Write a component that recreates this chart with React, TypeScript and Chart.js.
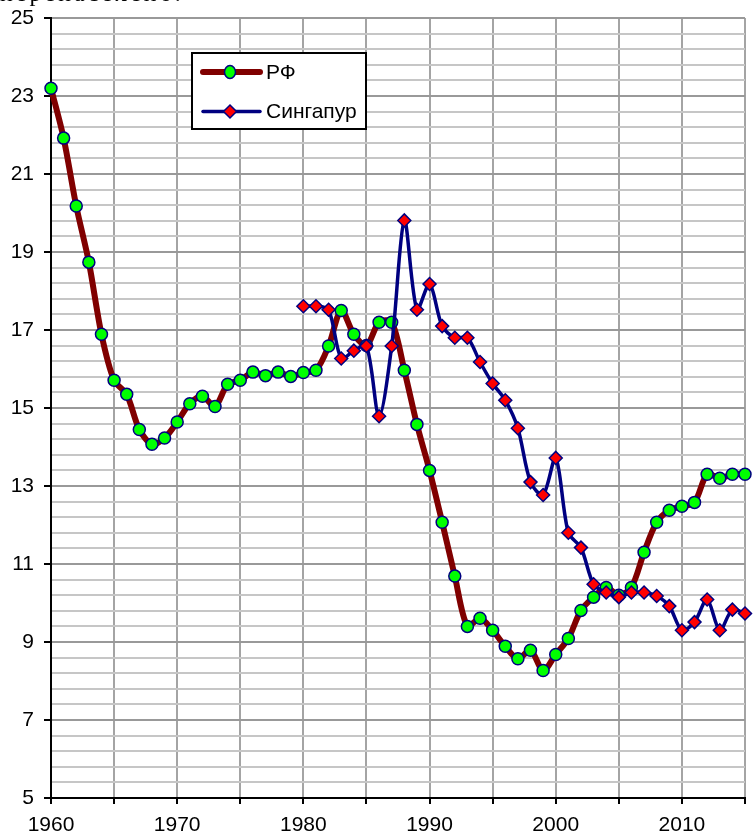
import React, { useEffect, useRef } from "react";
import { Chart, registerables } from "chart.js";

Chart.register(...registerables);

// ---- data ----
const rfYears = [
  1960, 1961, 1962, 1963, 1964, 1965, 1966, 1967, 1968, 1969,
  1970, 1971, 1972, 1973, 1974, 1975, 1976, 1977, 1978, 1979,
  1980, 1981, 1982, 1983, 1984, 1985, 1986, 1987, 1988, 1989,
  1990, 1991, 1992, 1993, 1994, 1995, 1996, 1997, 1998, 1999,
  2000, 2001, 2002, 2003, 2004, 2005, 2006, 2007, 2008, 2009,
  2010, 2011, 2012, 2013, 2014, 2015,
];
const rfValues = [
  23.2, 21.92, 20.18, 18.74, 16.89, 15.71, 15.35, 14.45, 14.07, 14.23,
  14.64, 15.11, 15.3, 15.04, 15.61, 15.71, 15.92, 15.83, 15.92, 15.81,
  15.91, 15.97, 16.59, 17.5, 16.89, 16.6, 17.2, 17.2, 15.97, 14.58,
  13.4, 12.07, 10.69, 9.4, 9.61, 9.3, 8.89, 8.57, 8.79, 8.27,
  8.68, 9.09, 9.81, 10.15, 10.4, 10.2, 10.4, 11.3, 12.07, 12.38,
  12.48, 12.58, 13.3, 13.2, 13.3, 13.3,
];
const sgYears = [
  1980, 1981, 1982, 1983, 1984, 1985, 1986, 1987, 1988, 1989,
  1990, 1991, 1992, 1993, 1994, 1995, 1996, 1997, 1998, 1999,
  2000, 2001, 2002, 2003, 2004, 2005, 2006, 2007, 2008, 2009,
  2010, 2011, 2012, 2013, 2014, 2015,
];
const sgValues = [
  17.61, 17.61, 17.52, 16.27, 16.47, 16.59, 14.79, 16.59, 19.81, 17.52,
  18.18, 17.1, 16.8, 16.8, 16.18, 15.63, 15.2, 14.48, 13.1, 12.77,
  13.72, 11.8, 11.42, 10.48, 10.27, 10.15, 10.27, 10.27, 10.18, 9.92,
  9.3, 9.51, 10.09, 9.3, 9.83, 9.73,
];
const seriesNames = ["РФ", "Сингапур"];
const xTickLabels = ["1960", "1970", "1980", "1990", "2000", "2010"];
const yTickLabels = ["5", "7", "9", "11", "13", "15", "17", "19", "21", "23", "25"];
const topText = "перенаселено.";

// ---- styles ----
const FONT = "'Liberation Sans', Arial, sans-serif";
const RF_LINE = "#800000";
const SG_LINE = "#000080";
const MARK_BORDER = "#000080";
const RF_FILL = "#00ff00";
const SG_FILL = "#ff0000";

const isMajorY = (v: number) =>
  Math.abs(v - Math.round(v)) < 1e-6 && yTickLabels.includes(String(Math.round(v)));

const legendPlugin = {
  id: "boxLegend",
  afterDraw(chart: any) {
    const { ctx, chartArea } = chart;
    const x0 = chartArea.left + 141;
    const y0 = chartArea.top + 35;
    const w = 174;
    const h = 76;
    ctx.save();
    ctx.fillStyle = "#fff";
    ctx.fillRect(x0, y0, w, h);
    ctx.strokeStyle = "#000";
    ctx.lineWidth = 2;
    ctx.strokeRect(x0, y0, w, h);
    const order = [1, 0]; // РФ first (dataset index 1), then Сингапур
    order.forEach((di, i) => {
      const ds = chart.data.datasets[di];
      const cy = y0 + 19 + i * 39.5;
      ctx.strokeStyle = ds.borderColor;
      ctx.lineWidth = ds.borderWidth;
      ctx.lineCap = "round";
      ctx.beginPath();
      ctx.moveTo(x0 + 11, cy);
      ctx.lineTo(x0 + 68, cy);
      ctx.stroke();
      const mx = x0 + 38;
      ctx.fillStyle = ds.pointBackgroundColor;
      ctx.strokeStyle = ds.pointBorderColor;
      ctx.lineWidth = ds.pointBorderWidth;
      ctx.beginPath();
      if (ds.pointStyle === "rectRot") {
        const r = ds.pointRadius;
        ctx.moveTo(mx, cy - r);
        ctx.lineTo(mx + r, cy);
        ctx.lineTo(mx, cy + r);
        ctx.lineTo(mx - r, cy);
        ctx.closePath();
      } else {
        ctx.ellipse(mx, cy, ds.pointRadius - 0.5, ds.pointRadius + 0.5, 0, 0, Math.PI * 2);
      }
      ctx.fill();
      ctx.stroke();
      ctx.fillStyle = "#000";
      ctx.font = `21px ${FONT}`;
      ctx.textBaseline = "middle";
      ctx.textAlign = "left";
      ctx.fillText(ds.label, x0 + 74, cy + 1);
    });
    ctx.restore();
  },
};

export default function App() {
  const canvasRef = useRef<HTMLCanvasElement | null>(null);

  useEffect(() => {
    if (!canvasRef.current) return;
    const chart = new Chart(canvasRef.current, {
      type: "line",
      data: {
        datasets: [
          {
            label: seriesNames[1],
            data: sgYears.map((x, i) => ({ x, y: sgValues[i] })),
            borderColor: SG_LINE,
            borderWidth: 3.5,
            backgroundColor: SG_FILL,
            pointStyle: "rectRot",
            pointRadius: 6.5,
            pointBackgroundColor: SG_FILL,
            pointBorderColor: MARK_BORDER,
            pointBorderWidth: 1.5,
            tension: 0.3,
            order: 1,
            clip: false,
          } as any,
          {
            label: seriesNames[0],
            data: rfYears.map((x, i) => ({ x, y: rfValues[i] })),
            borderColor: RF_LINE,
            borderWidth: 6,
            backgroundColor: RF_FILL,
            pointStyle: "circle",
            pointRadius: 6,
            pointBackgroundColor: RF_FILL,
            pointBorderColor: MARK_BORDER,
            pointBorderWidth: 1.5,
            tension: 0.3,
            order: 2,
            clip: false,
          } as any,
        ],
      },
      options: {
        responsive: false,
        animation: false,
        events: [],
        layout: { padding: { top: 18, right: 5, left: 0, bottom: 0 } },
        plugins: {
          legend: { display: false },
          tooltip: { enabled: false },
        },
        scales: {
          x: {
            type: "linear",
            min: 1960,
            max: 2015,
            ticks: {
              stepSize: 5,
              autoSkip: false,
              maxRotation: 0,
              color: "#000",
              padding: 9,
              font: { family: FONT, size: 21 },
              callback: (v: any) => (xTickLabels.includes(String(v)) ? String(v) : ""),
            },
            grid: {
              color: "#a4a4a4",
              lineWidth: 2,
              tickLength: 6,
              tickColor: "#000",
              tickWidth: 2,
            },
            border: { color: "#000", width: 2 },
            afterFit: (s: any) => {
              s.height = 37;
            },
          },
          y: {
            type: "linear",
            min: 5,
            max: 25,
            ticks: {
              stepSize: 0.4,
              autoSkip: false,
              color: "#000",
              padding: 10,
              font: { family: FONT, size: 21 },
              callback: (v: any) => (isMajorY(Number(v)) ? String(Math.round(Number(v))) : ""),
            },
            grid: {
              color: (c: any) => (isMajorY(c.tick.value) ? "#999999" : "#c6c6c6"),
              lineWidth: 2,
              tickLength: 7,
              tickColor: (c: any) => (isMajorY(c.tick.value) ? "#000" : "rgba(0,0,0,0)"),
              tickWidth: 2,
            },
            border: { color: "#000", width: 2 },
            afterFit: (s: any) => {
              s.width = 51;
              s.paddingTop = 0;
            },
          },
        },
      } as any,
      plugins: [legendPlugin],
    });
    return () => chart.destroy();
  }, []);

  return (
    <div
      style={{
        position: "absolute",
        left: 0,
        top: 0,
        width: 754,
        height: 835,
        overflow: "hidden",
        background: "#fff",
      }}
    >
      <div
        style={{
          position: "absolute",
          left: 0,
          top: -19,
          fontFamily: "'Liberation Serif', 'Times New Roman', serif",
          fontSize: 24,
          lineHeight: "24px",
          letterSpacing: 3,
          whiteSpace: "nowrap",
          color: "#000",
        }}
      >
        {topText}
      </div>
      <canvas ref={canvasRef} width={754} height={835} style={{ display: "block" }} />
    </div>
  );
}
